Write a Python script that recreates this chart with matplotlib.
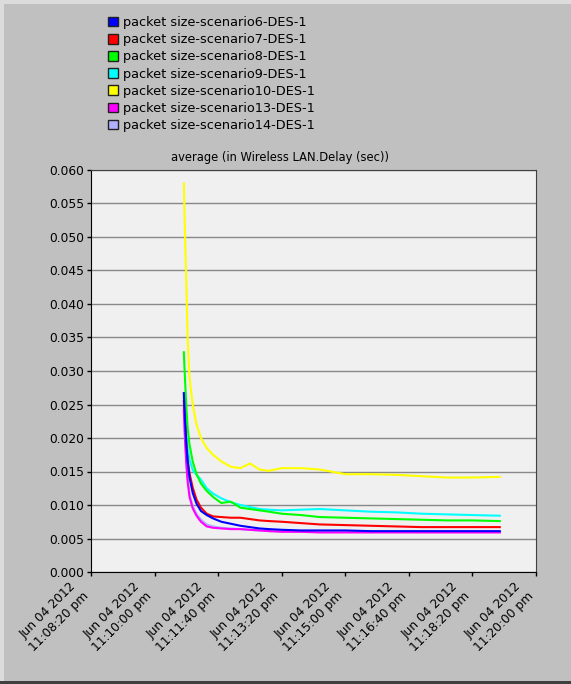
import matplotlib.pyplot as plt
from matplotlib.patches import Patch, Rectangle

plt.rcParams['font.family'] = ['DejaVu Sans']

# segundos desde 11:08:20 pm
t = [146, 148, 150, 152, 155, 160, 166, 173, 182, 192, 205, 220, 235, 250,
     265, 280, 300, 330, 360, 400, 440, 480, 520, 560, 600, 643]

s6 = [0.0267, 0.0225, 0.0190, 0.0165, 0.0141, 0.0118, 0.0102, 0.0091, 0.0085,
      0.0080, 0.0075, 0.0072, 0.0069, 0.0067, 0.0065, 0.0064, 0.0063, 0.0062,
      0.0062, 0.0062, 0.0061, 0.0061, 0.0061, 0.0061, 0.0061, 0.0061]
s7 = [0.0255, 0.0220, 0.0190, 0.0168, 0.0147, 0.0126, 0.0108, 0.0096, 0.0087,
      0.0083, 0.0082, 0.0081, 0.0081, 0.0079, 0.0077, 0.0076, 0.0075, 0.0073,
      0.0071, 0.0070, 0.0069, 0.0068, 0.0067, 0.0067, 0.0067, 0.0067]
s8 = [0.0328, 0.0285, 0.0245, 0.0215, 0.0190, 0.0165, 0.0146, 0.0132, 0.0121,
      0.0112, 0.0103, 0.0105, 0.0096, 0.0094, 0.0092, 0.0090, 0.0087, 0.0085,
      0.0082, 0.0081, 0.0080, 0.0079, 0.0078, 0.0077, 0.0077, 0.0076]
s9 = [0.0260, 0.0230, 0.0205, 0.0185, 0.0168, 0.0152, 0.0145, 0.0138, 0.0125,
      0.0117, 0.0110, 0.0104, 0.0100, 0.0097, 0.0094, 0.0093, 0.0092, 0.0093,
      0.0094, 0.0092, 0.0090, 0.0089, 0.0087, 0.0086, 0.0085, 0.0084]
s10 = [0.0580, 0.0500, 0.0430, 0.0350, 0.0290, 0.0250, 0.0220, 0.0200, 0.0185,
       0.0175, 0.0165, 0.0157, 0.0155, 0.0162, 0.0153, 0.0151, 0.0155, 0.0155,
       0.0153, 0.0146, 0.0146, 0.0145, 0.0143, 0.0141, 0.0141, 0.0142]
s13 = [0.0241, 0.0195, 0.0160, 0.0135, 0.0112, 0.0095, 0.0084, 0.0075, 0.0068,
       0.0066, 0.0065, 0.0064, 0.0064, 0.0063, 0.0062, 0.0061, 0.0060, 0.0060,
       0.0059, 0.0059, 0.0059, 0.0059, 0.0059, 0.0059, 0.0059, 0.0059]
s14 = [0.0245, 0.0200, 0.0165, 0.0140, 0.0116, 0.0098, 0.0087, 0.0078, 0.0071,
       0.0068, 0.0066, 0.0065, 0.0064, 0.0063, 0.0062, 0.0061, 0.0061, 0.0060,
       0.0060, 0.0060, 0.0060, 0.0060, 0.0060, 0.0060, 0.0060, 0.0060]

nombres = ['packet size-scenario6-DES-1', 'packet size-scenario7-DES-1',
           'packet size-scenario8-DES-1', 'packet size-scenario9-DES-1',
           'packet size-scenario10-DES-1', 'packet size-scenario13-DES-1',
           'packet size-scenario14-DES-1']
colores = ['#0000ff', '#ff0000', '#00ff00', '#00ffff', '#ffff00', '#ff00ff', '#b0b0ff']
series = [s6, s7, s8, s9, s10, s13, s14]

ticks_x = [0, 100, 200, 300, 400, 500, 600, 700]
etiquetas_x = ['Jun 04 2012\n11:08:20 pm', 'Jun 04 2012\n11:10:00 pm',
               'Jun 04 2012\n11:11:40 pm', 'Jun 04 2012\n11:13:20 pm',
               'Jun 04 2012\n11:15:00 pm', 'Jun 04 2012\n11:16:40 pm',
               'Jun 04 2012\n11:18:20 pm', 'Jun 04 2012\n11:20:00 pm']
ticks_y = [0.000, 0.005, 0.010, 0.015, 0.020, 0.025, 0.030,
           0.035, 0.040, 0.045, 0.050, 0.055, 0.060]

fig = plt.figure(figsize=(5.71, 6.84), dpi=100, facecolor='#c0c0c0')

# marco de la ventana
fig.patches.append(Rectangle((0, 1 - 4 / 684), 1, 4 / 684, transform=fig.transFigure,
                             facecolor='#dcdcdc', edgecolor='none'))
fig.patches.append(Rectangle((0, 0), 4 / 571, 1, transform=fig.transFigure,
                             facecolor='#dcdcdc', edgecolor='none'))
fig.patches.append(Rectangle((0, 0), 1, 3 / 684, transform=fig.transFigure,
                             facecolor='#404040', edgecolor='none'))

ax = fig.add_axes([91 / 571, 1 - 572 / 684, 445 / 571, 402 / 684])
ax.set_facecolor('#f0f0f0')

# orden de dibujo: el 14 primero (queda oculto), luego el resto
orden = [6, 4, 3, 2, 1, 5, 0]
for i in orden:
    ax.plot(t, series[i], color=colores[i], lw=1.5, zorder=3)

ax.set_xlim(0, 700)
ax.set_ylim(0, 0.060)
ax.set_yticks(ticks_y)
ax.set_yticklabels(['%.3f' % v for v in ticks_y])
ax.set_xticks(ticks_x)
ax.set_xticklabels(etiquetas_x, rotation=45, ha='right', va='bottom',
                   rotation_mode='anchor', multialignment='center')
ax.grid(axis='y', color='#888888', lw=1)
ax.set_axisbelow(True)
ax.tick_params(direction='out', length=3, width=1, colors='black',
               labelsize=8.8, pad=2)
ax.tick_params(axis='x', labelsize=8.8, pad=16)
for sp in ax.spines.values():
    sp.set_color('#404040')
ax.spines['left'].set_color('black')
ax.spines['bottom'].set_color('black')
fig.text(280 / 571, 1 - 158 / 684, 'average (in Wireless LAN.Delay (sec))',
         fontsize=8.3, ha='center', va='center')

handles = [Patch(facecolor=c, edgecolor='#202020', lw=1) for c in colores]
fig.legend(handles, nombres, loc='upper left', bbox_to_anchor=(103 / 571, 1 - 11 / 684),
           frameon=False, fontsize=9.3, handlelength=0.75, handleheight=0.75,
           handletextpad=0.4, labelspacing=0.32, borderaxespad=0)

plt.savefig('out.png', dpi=100, facecolor=fig.get_facecolor())
